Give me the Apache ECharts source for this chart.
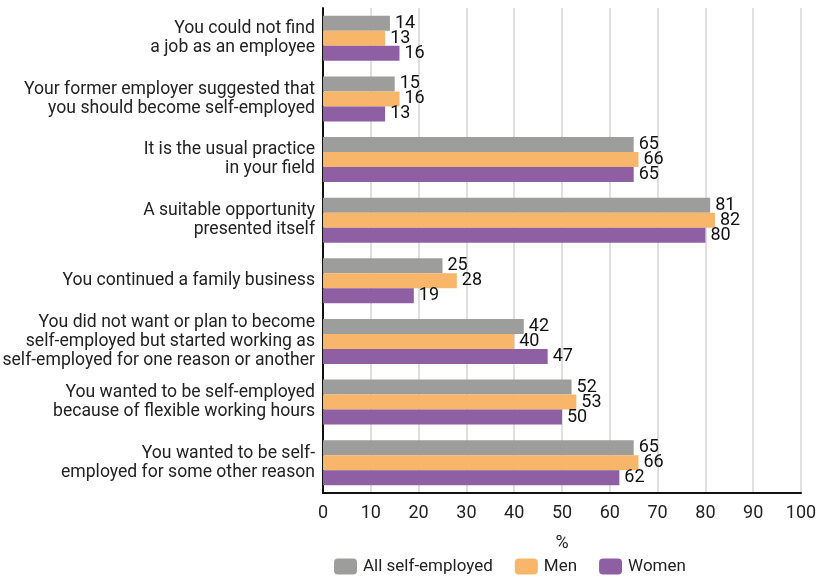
<!DOCTYPE html>
<html><head><meta charset="utf-8">
<script src="https://cdn.jsdelivr.net/npm/echarts@6/dist/echarts.min.js"></script>
<style>html,body{margin:0;padding:0;background:#fff}#c{width:825px;height:580px}</style>
</head><body><div id="c"></div>
<script>
var categories = [
  "You could not find\na job as an employee",
  "Your former employer suggested that\nyou should become self-employed",
  "It is the usual practice\nin your field",
  "A suitable opportunity\npresented itself",
  "You continued a family business",
  "You did not want or plan to become\nself-employed but started working as\nself-employed for one reason or another",
  "You wanted to be self-employed\nbecause of flexible working hours",
  "You wanted to be self-\nemployed for some other reason"
];
var allSelf = [14, 15, 65, 81, 25, 42, 52, 65];
var men = [13, 16, 66, 82, 28, 40, 53, 66];
var women = [16, 13, 65, 80, 19, 47, 50, 62];
var seriesNames = ["All self-employed", "Men", "Women"];
var colors = ["#9d9d9b", "#f8b66b", "#8f5fa3"];

var font = "Roboto, 'Liberation Sans', sans-serif";
var chart = echarts.init(document.getElementById('c'));
function mk(name, data, color) {
  return {
    name: name, type: 'bar', data: data, barWidth: 15, barGap: '0%',
    itemStyle: { color: color },
    label: { show: true, position: 'right', distance: 5, color: '#111', fontSize: 18, fontFamily: font },
    animation: false
  };
}
chart.setOption({
  animation: false,
  textStyle: { fontFamily: font },
  grid: { left: 323, right: 24, top: 8, bottom: 87, containLabel: false, outerBoundsMode: 'none' },
  xAxis: {
    type: 'value', min: 0, max: 100, interval: 10,
    name: '%', nameLocation: 'middle', nameGap: 41,
    nameTextStyle: { fontSize: 18, color: '#222', fontFamily: font },
    axisLine: { show: true, lineStyle: { color: '#111', width: 2 } },
    axisTick: { show: false },
    axisLabel: { fontSize: 18, color: '#222', margin: 11, fontFamily: font },
    splitLine: { show: true, lineStyle: { color: '#d4d4d4', width: 1.5 } }
  },
  yAxis: {
    type: 'category', data: categories, inverse: true,
    axisLine: { show: true, lineStyle: { color: '#111', width: 2 } },
    axisTick: { show: false },
    axisLabel: { fontSize: 17.6, color: '#222', lineHeight: 19, margin: 8, align: 'right', fontFamily: font }
  },
  legend: {
    top: 558, left: 334, padding: 0, itemWidth: 23, itemHeight: 16, itemGap: 22,
    textStyle: { fontSize: 17, color: '#222', fontFamily: font, padding: [0, 0, 0, 1] },
    data: seriesNames
  },
  series: [mk(seriesNames[0], allSelf, colors[0]), mk(seriesNames[1], men, colors[1]), mk(seriesNames[2], women, colors[2])]
});
</script></body></html>
